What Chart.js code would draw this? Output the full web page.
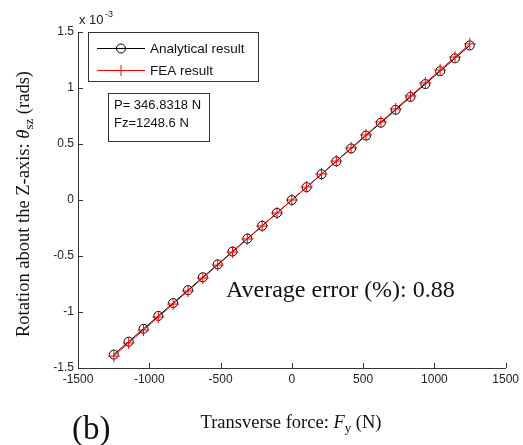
<!DOCTYPE html>
<html>
<head>
<meta charset="utf-8">
<script src="https://cdn.jsdelivr.net/npm/chart.js@4/dist/chart.umd.min.js"></script>
<style>
html,body{margin:0;padding:0;background:#fff;}
#wrap{width:523px;height:445px;position:relative;}
</style>
</head>
<body>
<div id="wrap"><canvas id="c" width="523" height="445"></canvas></div>
<script>
// Transverse force Fy (N)
const forceFy = [-1248.6, -1144.55, -1040.5, -936.45, -832.4, -728.35, -624.3, -520.25, -416.2, -312.15, -208.1, -104.05, 0,
  104.05, 208.1, 312.15, 416.2, 520.25, 624.3, 728.35, 832.4, 936.45, 1040.5, 1144.55, 1248.6];
// Rotation (x 10^-3 rads)
const analytical = [-1.380, -1.265, -1.150, -1.035, -0.920, -0.805, -0.690, -0.575, -0.460, -0.345, -0.230, -0.115, 0,
  0.115, 0.230, 0.345, 0.460, 0.575, 0.690, 0.805, 0.920, 1.035, 1.150, 1.265, 1.380];
const fea = [-1.394, -1.277, -1.161, -1.045, -0.929, -0.813, -0.697, -0.581, -0.465, -0.348, -0.232, -0.116, 0,
  0.116, 0.232, 0.348, 0.465, 0.581, 0.697, 0.813, 0.929, 1.045, 1.161, 1.277, 1.394];
const xTicks = [-1500, -1000, -500, 0, 500, 1000, 1500];
const yTicks = [-1.5, -1, -0.5, 0, 0.5, 1, 1.5];
const seriesNames = ['Analytical result', 'FEA result'];

const SANS = '"Liberation Sans", Arial, sans-serif';
const SERIF = '"Liberation Serif", "Times New Roman", serif';
const AXIS = '#333';

const decor = {
  id: 'decor',
  afterDraw(chart) {
    const ctx = chart.ctx;
    const xs = chart.scales.x, ys = chart.scales.y;
    const ca = chart.chartArea;
    ctx.save();
    // inward ticks
    ctx.strokeStyle = AXIS; ctx.lineWidth = 1;
    ctx.beginPath();
    xTicks.forEach(v => { const px = Math.round(xs.getPixelForValue(v)) + 0.5; ctx.moveTo(px, ca.bottom); ctx.lineTo(px, ca.bottom - 5); });
    yTicks.forEach(v => { const py = Math.round(ys.getPixelForValue(v)) + 0.5; ctx.moveTo(ca.left, py); ctx.lineTo(ca.left + 5, py); });
    ctx.stroke();

    // exponent label
    ctx.fillStyle = '#222';
    ctx.font = '13px ' + SANS;
    ctx.textBaseline = 'alphabetic'; ctx.textAlign = 'left';
    ctx.fillText('x 10', 79, 24);
    ctx.font = '9px ' + SANS;
    ctx.fillText('-3', 105, 17);

    // legend box
    const lx = 88, ly = 32, lw = 170, lh = 49;
    ctx.fillStyle = '#fff'; ctx.fillRect(lx, ly, lw, lh);
    ctx.strokeStyle = AXIS; ctx.lineWidth = 1;
    ctx.strokeRect(lx + 0.5, ly + 0.5, lw, lh);
    const rows = [{y: 48, color: '#000', marker: 'circle'}, {y: 70, color: '#f00', marker: 'cross'}];
    rows.forEach((r, i) => {
      ctx.strokeStyle = r.color; ctx.lineWidth = 1;
      ctx.beginPath(); ctx.moveTo(97, r.y + 0.5); ctx.lineTo(145, r.y + 0.5); ctx.stroke();
      ctx.beginPath();
      if (r.marker === 'circle') { ctx.arc(121, r.y + 0.5, 4.5, 0, Math.PI * 2); }
      else { ctx.moveTo(121, r.y - 5); ctx.lineTo(121, r.y + 6); ctx.moveTo(116, r.y + 0.5); ctx.lineTo(127, r.y + 0.5); }
      ctx.stroke();
      ctx.fillStyle = '#111'; ctx.font = '13.5px ' + SANS;
      ctx.textBaseline = 'middle'; ctx.textAlign = 'left';
      ctx.fillText(seriesNames[i], 150, r.y + 1);
    });

    // parameter box
    ctx.fillStyle = '#fff'; ctx.fillRect(108, 93, 101, 48);
    ctx.strokeStyle = AXIS; ctx.strokeRect(108.5, 93.5, 101, 48);
    ctx.fillStyle = '#111'; ctx.font = '13px ' + SANS;
    ctx.textBaseline = 'middle';
    ctx.fillText('P= 346.8318 N', 114, 105);
    ctx.fillText('Fz=1248.6 N', 114, 123);

    // average error
    ctx.font = '24px ' + SERIF;
    ctx.fillStyle = '#111';
    ctx.fillText('Average error (%): 0.88', 226, 291);

    // (b)
    ctx.font = '33px ' + SERIF;
    ctx.fillText('(b)', 72, 430);

    // x axis title
    const parts = [
      {t: 'Transverse force: ', f: '18.5px ' + SERIF, dy: 0},
      {t: 'F', f: 'italic 18.5px ' + SERIF, dy: 0},
      {t: 'y', f: '13px ' + SERIF, dy: 4},
      {t: ' (N)', f: '18.5px ' + SERIF, dy: 0}
    ];
    let total = 0;
    parts.forEach(p => { ctx.font = p.f; total += ctx.measureText(p.t).width; });
    let x = 291 - total / 2;
    ctx.textBaseline = 'alphabetic';
    parts.forEach(p => { ctx.font = p.f; ctx.fillText(p.t, x, 428 + p.dy); x += ctx.measureText(p.t).width; });

    // y axis title (rotated)
    const yparts = [
      {t: 'Rotation about the Z-axis: ', f: '18.5px ' + SERIF, dy: 0},
      {t: '\u03b8', f: 'italic 18.5px ' + SERIF, dy: 0},
      {t: 'sz', f: '13px ' + SERIF, dy: 4},
      {t: ' (rads)', f: '18.5px ' + SERIF, dy: 0}
    ];
    total = 0;
    yparts.forEach(p => { ctx.font = p.f; total += ctx.measureText(p.t).width; });
    ctx.translate(29, 204);
    ctx.rotate(-Math.PI / 2);
    x = -total / 2;
    yparts.forEach(p => { ctx.font = p.f; ctx.fillText(p.t, x, p.dy); x += ctx.measureText(p.t).width; });
    ctx.restore();
  }
};

new Chart(document.getElementById('c'), {
  type: 'scatter',
  data: {
    datasets: [
      {
        label: seriesNames[0],
        data: forceFy.map((x, i) => ({x: x, y: analytical[i]})),
        showLine: true,
        borderColor: '#000', borderWidth: 1,
        pointStyle: 'circle', pointRadius: 4.5,
        pointBackgroundColor: 'rgba(0,0,0,0)', pointBorderColor: '#000', pointBorderWidth: 1,
        order: 2
      },
      {
        label: seriesNames[1],
        data: forceFy.map((x, i) => ({x: x, y: fea[i]})),
        showLine: true,
        borderColor: '#f00', borderWidth: 1,
        pointStyle: 'cross', pointRadius: 6,
        pointBorderColor: '#f00', pointBorderWidth: 1,
        order: 1
      }
    ]
  },
  options: {
    responsive: false,
    animation: false,
    devicePixelRatio: 1,
    layout: {padding: {left: 0, right: 16, top: 32, bottom: 0}},
    plugins: {legend: {display: false}, tooltip: {enabled: false}},
    scales: {
      x: {
        type: 'linear', min: -1500, max: 1500,
        afterFit(s) { s.height = 77; },
        afterBuildTicks(s) { s.ticks = xTicks.map(v => ({value: v})); },
        grid: {display: false, drawTicks: false},
        border: {display: true, color: AXIS, width: 1},
        ticks: {color: '#222', font: {family: SANS, size: 12}, padding: 4, maxRotation: 0, autoSkip: false,
          callback: v => String(v)}
      },
      y: {
        type: 'linear', min: -1.5, max: 1.5,
        afterFit(s) { s.width = 78; },
        afterBuildTicks(s) { s.ticks = yTicks.map(v => ({value: v})); },
        grid: {display: false, drawTicks: false},
        border: {display: true, color: AXIS, width: 1},
        ticks: {color: '#222', font: {family: SANS, size: 12}, padding: 4, autoSkip: false,
          callback: v => String(v)}
      }
    }
  },
  plugins: [decor]
});
</script>
</body>
</html>
